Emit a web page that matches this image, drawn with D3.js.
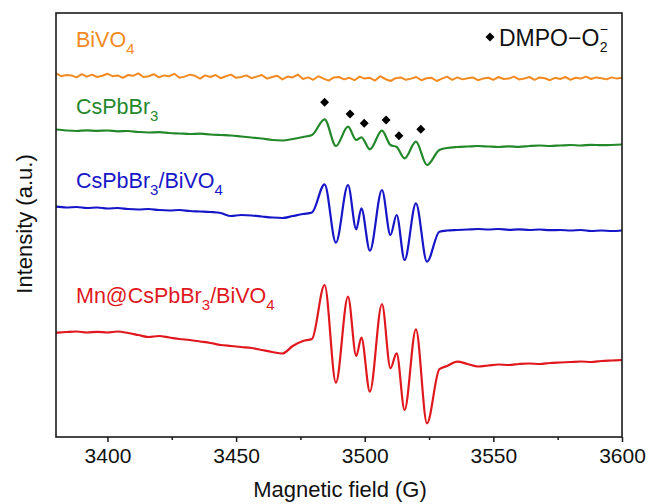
<!DOCTYPE html>
<html>
<head>
<meta charset="utf-8">
<script src="https://cdn.jsdelivr.net/npm/d3@7"></script>
<style>
  body { margin: 0; background: #fff; }
  text { font-family: "Liberation Sans", Arial, sans-serif; }
</style>
</head>
<body>
<svg id="chart" width="651" height="504"></svg>
<script>
// EPR spectra (DMPO spin trap), intensity in arbitrary units with vertical offsets

// BiVO4 scan (2 G steps)
const fieldScan = [
  3380,3382,3384,3386,3388,3390,3392,3394,3396,3398,
  3400,3402,3404,3406,3408,3410,3412,3414,3416,3418,
  3420,3422,3424,3426,3428,3430,3432,3434,3436,3438,
  3440,3442,3444,3446,3448,3450,3452,3454,3456,3458,
  3460,3462,3464,3466,3468,3470,3472,3474,3476,3478,
  3480,3482,3484,3486,3488,3490,3492,3494,3496,3498,
  3500,3502,3504,3506,3508,3510,3512,3514,3516,3518,
  3520,3522,3524,3526,3528,3530,3532,3534,3536,3538,
  3540,3542,3544,3546,3548,3550,3552,3554,3556,3558,
  3560,3562,3564,3566,3568,3570,3572,3574,3576,3578,
  3580,3582,3584,3586,3588,3590,3592,3594,3596,3598,
  3600
];
const bivo4 = [
  90.9,90.2,90.5,90.4,89.9,90.7,90.1,90.6,90.0,90.3,
  90.8,90.2,90.4,89.8,90.5,90.3,90.9,90.0,90.2,90.7,
  89.9,90.4,90.2,90.8,89.8,90.1,90.6,90.3,89.6,90.4,
  90.0,90.5,89.7,90.2,90.6,89.8,90.0,90.4,89.7,90.1,
  90.5,89.6,90.0,90.3,89.4,90.1,89.9,90.6,89.5,89.9,
  89.3,90.2,89.6,89.1,89.9,90.0,89.4,89.8,89.2,90.1,
  89.6,89.8,89.1,90.2,89.5,89.0,89.7,89.9,89.3,89.6,
  90.0,89.2,89.7,89.8,89.0,89.6,90.1,89.3,89.9,89.4,
  89.7,89.9,89.2,89.6,89.8,89.3,90.0,89.5,89.6,90.1,
  89.4,89.6,90.0,89.3,89.9,89.7,89.2,89.8,89.5,90.0,
  89.3,89.8,89.6,90.1,89.5,89.9,89.7,89.4,89.9,89.6,
  89.8
];

// Field points shared by the three DMPO-O2- spectra
const field = [
  3380,3384,3388,3392,3396,3400,3404,3408,3412,3416,3420,3424,3428,
  3432,3436,3440,3444,3448,3452,3456,3460,3464,3468,3472,3476,
  3479.5,3484.4,3488.8,3493.5,3496.7,3498.7,3502.0,3506.7,3510.0,
  3512.4,3515.5,3519.9,3524.2,3529.0,
  3532,3536,3540,3544,3548,3552,3556,3560,3564,3568,3572,3576,3580,
  3584,3588,3592,3596,3600
];
const cspbbr3 = [
  76.88,76.63,76.5,76.68,76.55,76.63,76.43,76.5,76.25,76.13,76.2,76.0,75.88,
  75.75,75.85,75.63,75.5,75.38,75.13,74.88,74.63,74.25,74.13,74.5,75.0,
  75.5,79.43,72.75,77.58,74.25,74.93,71.93,76.58,73.0,
  72.5,69.68,73.83,68.0,71.75,
  72.25,72.5,72.63,72.75,72.63,72.5,72.68,72.55,72.75,72.88,72.75,72.88,73.0,
  72.88,73.05,72.95,73.0,73.13
];
const cspbbr3Bivo4 = [
  57.58,57.38,57.5,57.25,57.38,57.13,57.25,57.0,56.88,57.0,56.75,56.63,56.75,
  56.5,56.38,56.25,56.0,55.25,55.5,55.38,55.13,54.88,54.75,55.25,55.75,
  56.13,63.18,48.58,63.0,51.93,57.18,46.58,61.75,50.5,
  55.5,44.25,58.43,43.83,51.33,
  51.63,51.75,51.88,52.0,51.88,52.0,51.8,51.93,51.75,51.88,51.7,51.75,51.63,
  51.75,51.5,51.63,51.5,51.63
];
const mnCspbbr3Bivo4 = [
  26.08,26.25,26.38,26.13,26.3,26.13,26.38,26.0,25.5,25.0,25.25,24.88,24.5,
  24.25,23.88,23.5,23.0,22.75,22.5,22.25,21.75,21.25,20.88,22.75,24.0,
  24.5,38.0,13.58,35.08,20.25,24.83,11.33,33.25,17.18,
  20.93,6.75,26.93,3.43,16.93,
  17.75,18.83,18.25,17.63,17.88,18.13,18.0,18.25,18.38,18.25,18.5,18.63,18.75,
  18.88,18.75,19.0,19.13,19.25
];

// DMPO-O2- line markers above the CsPbBr3 trace
const markerField = [3484.4, 3494.3, 3499.8, 3508.3, 3513.3, 3521.8];
const markerValue = [83.68, 80.75, 78.43, 79.25, 75.33, 76.93];

const majorTicks = [3400, 3450, 3500, 3550, 3600];
const minorTicks = [3425, 3475, 3525, 3575];

const seriesColors = ["#F28A22", "#23882A", "#1616C8", "#E0181E"];
const seriesNames = [
  [["BiVO", ""], ["4", "sub"]],
  [["CsPbBr", ""], ["3", "sub"]],
  [["CsPbBr", ""], ["3", "sub"], ["/BiVO", ""], ["4", "sub"]],
  [["Mn@CsPbBr", ""], ["3", "sub"], ["/BiVO", ""], ["4", "sub"]]
];

const svg = d3.select("#chart");
const m = { left: 56, right: 622, top: 13, bottom: 437 };

const x = d3.scaleLinear().domain([3380, 3600]).range([m.left, m.right]);
const y = d3.scaleLinear().domain([0, 106]).range([m.bottom, m.top]);

// Traces
const lineScan = d3.line().x((d, i) => x(fieldScan[i])).y(d => y(d)).curve(d3.curveLinear);
const lineSpec = d3.line().x((d, i) => x(field[i])).y(d => y(d)).curve(d3.curveMonotoneX);

svg.append("path").attr("d", lineScan(bivo4))
  .attr("fill", "none").attr("stroke", seriesColors[0])
  .attr("stroke-width", 2).attr("stroke-linejoin", "round");
[cspbbr3, cspbbr3Bivo4, mnCspbbr3Bivo4].forEach((vals, k) => {
  svg.append("path").attr("d", lineSpec(vals))
    .attr("fill", "none").attr("stroke", seriesColors[k + 1])
    .attr("stroke-width", 2.2).attr("stroke-linejoin", "round");
});

// Diamond markers
const diamond = d3.symbol().type(d3.symbolSquare).size(40);
svg.append("g").selectAll("path").data(markerField).join("path")
  .attr("d", diamond)
  .attr("transform", (d, i) => `translate(${x(d)},${y(markerValue[i])}) rotate(45)`)
  .attr("fill", "#000");

// Frame
svg.append("rect")
  .attr("x", m.left).attr("y", m.top)
  .attr("width", m.right - m.left).attr("height", m.bottom - m.top)
  .attr("fill", "none").attr("stroke", "#1a1a1a").attr("stroke-width", 1.6);

// X axis
const xAxis = d3.axisBottom(x).tickValues(majorTicks).tickSize(5).tickPadding(6)
  .tickFormat(d3.format("d"));
const gx = svg.append("g").attr("transform", `translate(0,${m.bottom})`).call(xAxis);
gx.select(".domain").remove();
gx.selectAll(".tick line").attr("stroke", "#1a1a1a").attr("stroke-width", 1.5);
gx.selectAll(".tick text").attr("font-size", 21).attr("fill", "#111")
  .attr("font-family", "Liberation Sans, Arial, sans-serif");
const gxm = svg.append("g").attr("transform", `translate(0,${m.bottom})`)
  .call(d3.axisBottom(x).tickValues(minorTicks).tickSize(3).tickFormat(""));
gxm.select(".domain").remove();
gxm.selectAll(".tick line").attr("stroke", "#1a1a1a").attr("stroke-width", 1.5);

// Axis titles
svg.append("text").attr("x", (m.left + m.right) / 2 + 1).attr("y", 497)
  .attr("text-anchor", "middle").attr("font-size", 22).attr("fill", "#111")
  .text("Magnetic field (G)");
svg.append("text").attr("transform", "translate(32,224) rotate(-90)")
  .attr("text-anchor", "middle").attr("font-size", 22).attr("fill", "#111")
  .text("Intensity (a.u.)");

// Series labels with subscripts
const labelPos = [[76, 47], [76, 114], [76, 188], [76, 303]];
seriesNames.forEach((parts, k) => {
  const t = svg.append("text").attr("x", labelPos[k][0]).attr("y", labelPos[k][1])
    .attr("font-size", 21.5).attr("fill", seriesColors[k]);
  let shifted = false;
  parts.forEach(([s, kind]) => {
    const ts = t.append("tspan").text(s);
    if (kind === "sub") { ts.attr("font-size", 15).attr("dy", 7); shifted = true; }
    else if (shifted) { ts.attr("dy", -7); shifted = false; }
  });
});

// Legend: diamond + DMPO-O2^-
svg.append("path").attr("d", diamond)
  .attr("transform", "translate(490,37) rotate(45)").attr("fill", "#000");
const lg = svg.append("text").attr("x", 499).attr("y", 46)
  .attr("font-size", 23).attr("fill", "#111").text("DMPO\u2212O");
const lgEnd = 499 + lg.node().getComputedTextLength();
svg.append("text").attr("x", lgEnd + 0.5).attr("y", 52).attr("font-size", 14)
  .attr("fill", "#111").text("2");
svg.append("text").attr("x", lgEnd + 0.5).attr("y", 34).attr("font-size", 14)
  .attr("fill", "#111").text("\u2212");
</script>
</body>
</html>
